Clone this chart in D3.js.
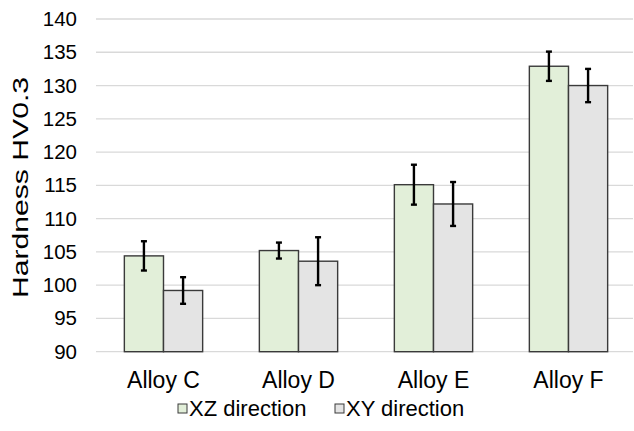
<!DOCTYPE html>
<html>
<head>
<meta charset="utf-8">
<script src="https://cdn.jsdelivr.net/npm/d3@7"></script>
<style>
  body { margin: 0; background: #fff; }
  text { font-family: "Liberation Sans", Arial, sans-serif; fill: #000; }
</style>
</head>
<body>
<svg id="chart" width="634" height="431"></svg>
<script>
// data
var categories = ["Alloy C", "Alloy D", "Alloy E", "Alloy F"];
var seriesNames = ["XZ direction", "XY direction"];
var xzValues = [104.4, 105.2, 115.1, 132.9];
var xzErrors = [2.2, 1.2, 3.0, 2.2];
var xyValues = [99.2, 103.6, 112.2, 130.0];
var xyErrors = [2.0, 3.6, 3.3, 2.5];
var yTicks = [90, 95, 100, 105, 110, 115, 120, 125, 130, 135, 140];

var colors = { "XZ direction": "#e2efd9", "XY direction": "#e4e4e4" };

var svg = d3.select("#chart");
var plotLeft = 96, plotRight = 636, plotTop = 19, plotBottom = 351.7;

var y = d3.scaleLinear().domain([90, 140]).range([plotBottom, plotTop]);
var x0 = d3.scaleBand().domain(categories).range([plotLeft, plotRight])
    .paddingInner(0.42).paddingOuter(0.21);
var x1 = d3.scaleBand().domain(seriesNames).range([0, x0.bandwidth()]);

// gridlines
svg.append("g")
    .selectAll("line")
    .data(yTicks)
    .join("line")
    .attr("x1", plotLeft).attr("x2", 633)
    .attr("y1", d => y(d)).attr("y2", d => y(d))
    .attr("stroke", "#d9d9d9")
    .attr("stroke-width", 1.3);

// y axis labels
var yAxis = svg.append("g")
    .attr("transform", "translate(" + plotLeft + ",0)")
    .call(d3.axisLeft(y).tickValues(yTicks).tickSize(0).tickPadding(19));
yAxis.select(".domain").remove();
yAxis.selectAll("text")
    .style("font-size", "20.5px")
    .attr("fill", "#000")
    .attr("font-family", "Liberation Sans, Arial, sans-serif");

var rows = categories.map(function(c, i) {
    return [
        { cat: c, name: seriesNames[0], value: xzValues[i], err: xzErrors[i] },
        { cat: c, name: seriesNames[1], value: xyValues[i], err: xyErrors[i] }
    ];
});

var groups = svg.append("g")
    .selectAll("g")
    .data(rows)
    .join("g")
    .attr("transform", d => "translate(" + x0(d[0].cat) + ",0)");

groups.selectAll("rect")
    .data(d => d)
    .join("rect")
    .attr("x", d => x1(d.name))
    .attr("width", x1.bandwidth())
    .attr("y", d => y(d.value))
    .attr("height", d => y(90) - y(d.value))
    .attr("fill", d => colors[d.name])
    .attr("stroke", "#3a3a3a")
    .attr("stroke-width", 1.4);

// error bars
var eb = groups.selectAll("g.err")
    .data(d => d)
    .join("g")
    .attr("class", "err")
    .attr("stroke", "#000")
    .attr("stroke-width", 2.4);
eb.append("line")
    .attr("x1", d => x1(d.name) + x1.bandwidth() / 2)
    .attr("x2", d => x1(d.name) + x1.bandwidth() / 2)
    .attr("y1", d => y(d.value + d.err))
    .attr("y2", d => y(d.value - d.err));
[1, -1].forEach(function(s) {
    eb.append("line")
        .attr("x1", d => x1(d.name) + x1.bandwidth() / 2 - 3)
        .attr("x2", d => x1(d.name) + x1.bandwidth() / 2 + 3)
        .attr("y1", d => y(d.value + s * d.err))
        .attr("y2", d => y(d.value + s * d.err));
});

// category labels
svg.append("g")
    .selectAll("text")
    .data(categories)
    .join("text")
    .attr("x", d => x0(d) + x0.bandwidth() / 2)
    .attr("y", 388)
    .attr("text-anchor", "middle")
    .style("font-size", "23px")
    .text(d => d);

// axis title
svg.append("text")
    .attr("transform", "translate(27.5,187.5) rotate(-90)")
    .attr("text-anchor", "middle")
    .attr("textLength", 221)
    .attr("lengthAdjust", "spacingAndGlyphs")
    .style("font-size", "22.5px")
    .text("Hardness HV0.3");

// legend
var legendX = [178, 335];
var legend = svg.append("g")
    .selectAll("g")
    .data(seriesNames)
    .join("g")
    .attr("transform", (d, i) => "translate(" + legendX[i] + ",0)");
legend.append("rect")
    .attr("x", 0).attr("y", 404)
    .attr("width", 9).attr("height", 9)
    .attr("fill", d => colors[d])
    .attr("stroke", "#3a3a3a")
    .attr("stroke-width", 1);
legend.append("text")
    .attr("x", 11)
    .attr("y", 415.5)
    .style("font-size", "22px")
    .text(d => d);
</script>
</body>
</html>
